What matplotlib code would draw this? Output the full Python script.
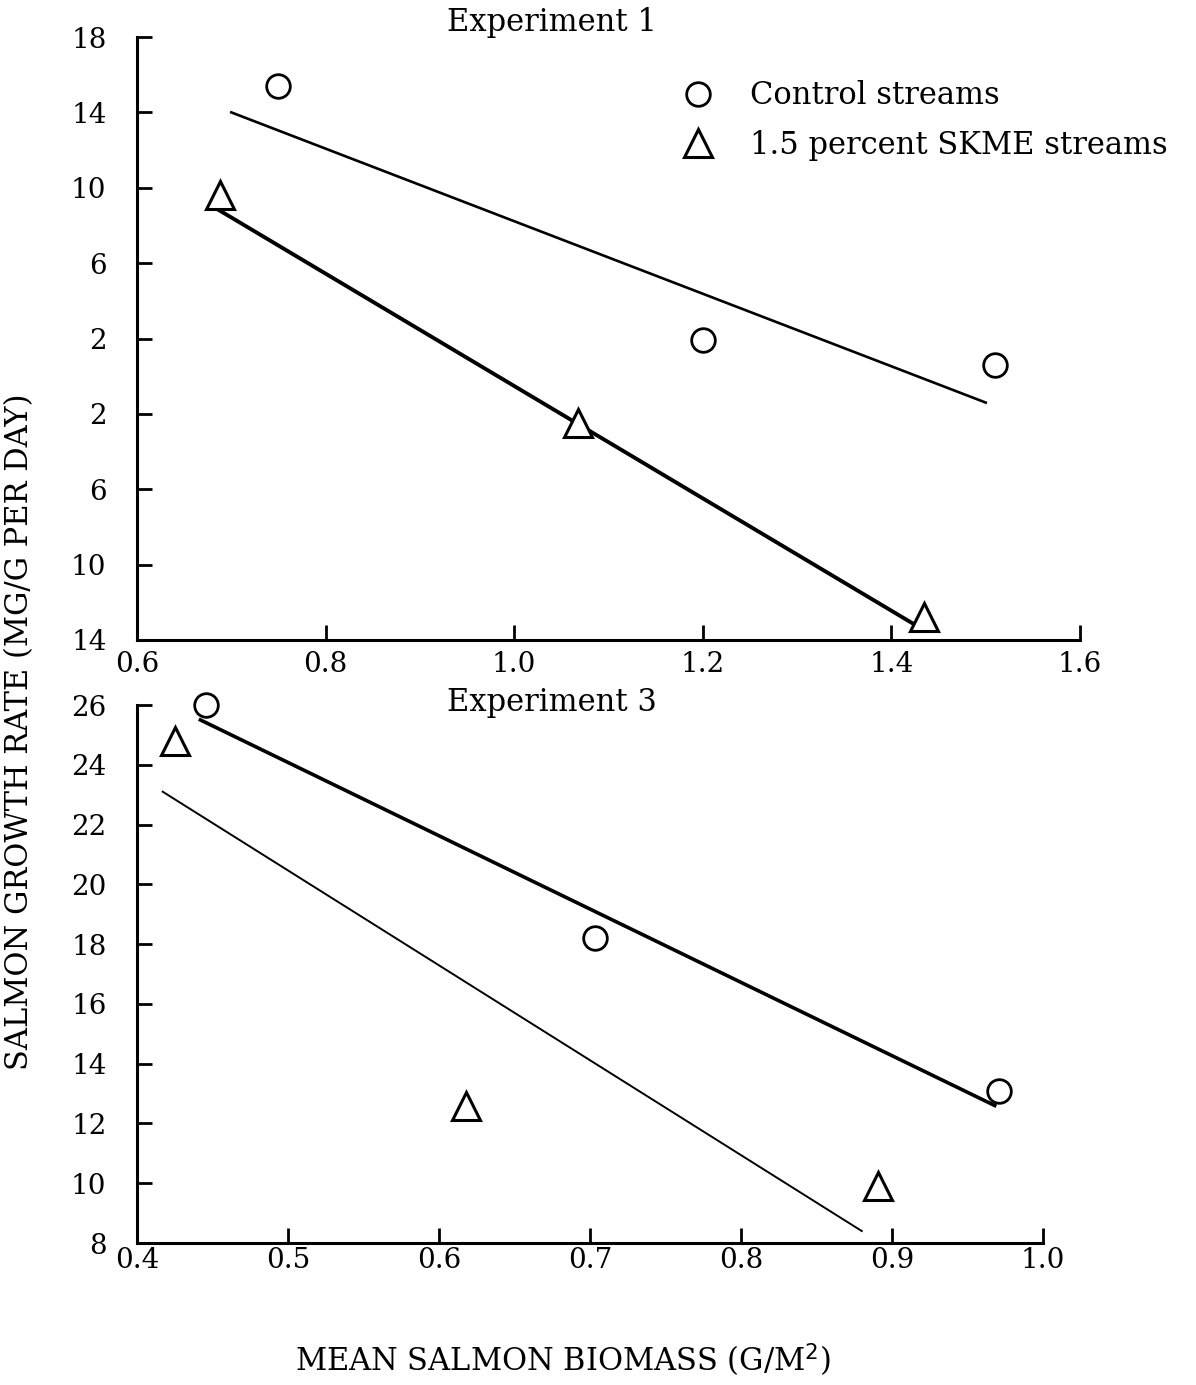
import matplotlib
matplotlib.use("Agg")
import matplotlib.pyplot as plt
from matplotlib.lines import Line2D

plt.rcParams['font.family'] = ['DejaVu Serif']

# ---------------- data ----------------
# Experiment 1
exp1_control_x = [0.75, 1.20, 1.51]
exp1_control_y = [15.4, 1.9, 0.6]
exp1_skme_x = [0.688, 1.068, 1.435]
exp1_skme_y = [9.6, -2.5, -12.8]
exp1_control_fit_x = [0.70, 1.50]
exp1_control_fit_y = [14.0, -1.4]
exp1_skme_fit_x = [0.684, 1.432]
exp1_skme_fit_y = [8.9, -13.4]
exp1_yticks = [18, 14, 10, 6, 2, -2, -6, -10, -14]
exp1_yticklabels = ["18", "14", "10", "6", "2", "2", "6", "10", "14"]
exp1_xticks = [0.6, 0.8, 1.0, 1.2, 1.4, 1.6]
exp1_xticklabels = ["0.6", "0.8", "1.0", "1.2", "1.4", "1.6"]

# Experiment 3
exp3_control_x = [0.446, 0.703, 0.971]
exp3_control_y = [26.0, 18.2, 13.1]
exp3_skme_x = [0.425, 0.618, 0.891]
exp3_skme_y = [24.8, 12.6, 9.9]
exp3_control_fit_x = [0.442, 0.968]
exp3_control_fit_y = [25.5, 12.6]
exp3_skme_fit_x = [0.417, 0.880]
exp3_skme_fit_y = [23.1, 8.4]
exp3_yticks = [8, 10, 12, 14, 16, 18, 20, 22, 24, 26]
exp3_yticklabels = ["8", "10", "12", "14", "16", "18", "20", "22", "24", "26"]
exp3_xticks = [0.4, 0.5, 0.6, 0.7, 0.8, 0.9, 1.0]
exp3_xticklabels = ["0.4", "0.5", "0.6", "0.7", "0.8", "0.9", "1.0"]

series_labels = ["Control streams", "1.5 percent SKME streams"]

# ---------------- figure ----------------
W, H = 1196, 1385
fig = plt.figure(figsize=(W / 100, H / 100), dpi=100)

def px_axes(x0, x1, y0, y1):
    return fig.add_axes([x0 / W, 1 - y1 / H, (x1 - x0) / W, (y1 - y0) / H])

FS_TICK = 20
FS = 22
circ_kw = dict(marker='o', markersize=17, markerfacecolor='white',
               markeredgecolor='black', markeredgewidth=2, linestyle='none')
tri_kw = dict(marker='^', markersize=20, markerfacecolor='white',
              markeredgecolor='black', markeredgewidth=2.2, linestyle='none')

def style_axes(ax, xpad):
    for s in ['top', 'right']:
        ax.spines[s].set_visible(False)
    for s in ['left', 'bottom']:
        ax.spines[s].set_linewidth(2.2)
    ax.tick_params(axis='both', direction='in', length=11, width=2,
                   labelsize=FS_TICK)
    ax.tick_params(axis='y', pad=22)
    ax.tick_params(axis='x', pad=xpad)

# top panel
ax1 = px_axes(137, 1080, 37, 640)
ax1.plot(exp1_control_fit_x, exp1_control_fit_y, color='black', lw=1.9)
ax1.plot(exp1_skme_fit_x, exp1_skme_fit_y, color='black', lw=2.8)
ax1.plot(exp1_control_x, exp1_control_y, **circ_kw)
ax1.plot(exp1_skme_x, exp1_skme_y, **tri_kw)
ax1.set_xlim(0.6, 1.6)
ax1.set_ylim(-14, 18)
ax1.set_xticks(exp1_xticks)
ax1.set_xticklabels(exp1_xticklabels)
ax1.set_yticks(exp1_yticks)
ax1.set_yticklabels(exp1_yticklabels)
style_axes(ax1, 8)
fig.text(552 / W, 1 - 23 / H, "Experiment 1", ha='center', va='center', fontsize=FS)

# bottom panel
ax2 = px_axes(137, 1043, 705, 1243)
ax2.plot(exp3_control_fit_x, exp3_control_fit_y, color='black', lw=2.6)
ax2.plot(exp3_skme_fit_x, exp3_skme_fit_y, color='black', lw=1.4)
ax2.plot(exp3_control_x, exp3_control_y, clip_on=False, **circ_kw)
ax2.plot(exp3_skme_x, exp3_skme_y, clip_on=False, **tri_kw)
ax2.set_xlim(0.4, 1.0)
ax2.set_ylim(8, 26)
ax2.set_xticks(exp3_xticks)
ax2.set_xticklabels(exp3_xticklabels)
ax2.set_yticks(exp3_yticks)
ax2.set_yticklabels(exp3_yticklabels)
style_axes(ax2, 3)
fig.text(552 / W, 1 - 703 / H, "Experiment 3", ha='center', va='center', fontsize=FS)

# legend
handles = [Line2D([], [], **circ_kw), Line2D([], [], **tri_kw)]
fig.legend(handles, series_labels, loc='upper left',
           bbox_to_anchor=(664 / W, 1 - 68 / H), frameon=False,
           fontsize=FS, handletextpad=1.0, labelspacing=0.6,
           borderaxespad=0, handlelength=1.4)

# axis titles
fig.text(20 / W, 1 - 732 / H, "SALMON GROWTH RATE (MG/G PER DAY)", rotation=90,
         ha='center', va='center', fontsize=FS)
fig.text(563 / W, 1 - 1360 / H, "MEAN SALMON BIOMASS (G/M$^2$)",
         ha='center', va='center', fontsize=FS)

fig.savefig("out.png", dpi=100)
